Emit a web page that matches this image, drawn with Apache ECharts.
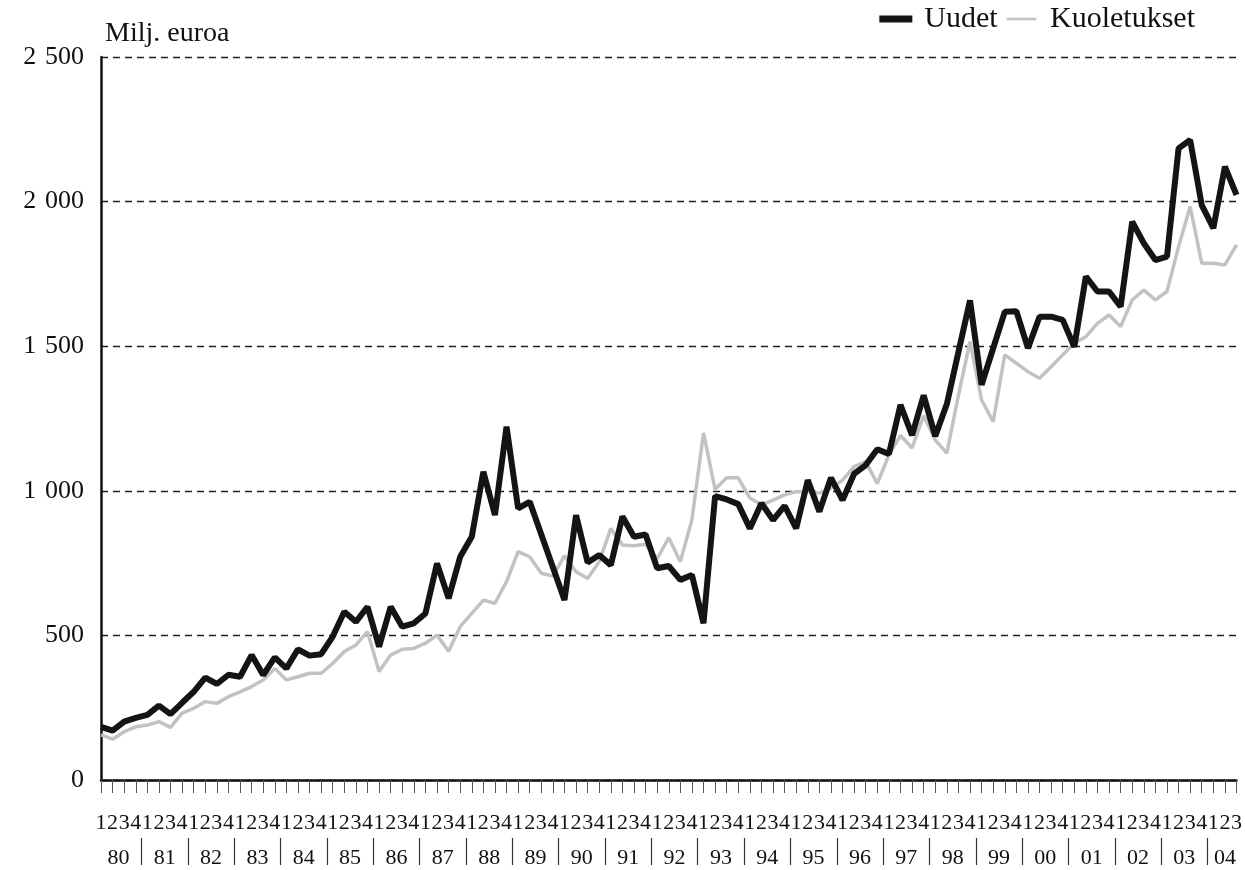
<!DOCTYPE html>
<html>
<head>
<meta charset="utf-8">
<script src="https://cdn.jsdelivr.net/npm/echarts/dist/echarts.min.js"></script>
<style>
    html, body {margin: 0; padding: 0; background: #fff;}
    #chart {width: 1245px; height: 870px;}
</style>
</head>
<body>
<div id="chart"></div>
<script>
//  vuodet (kaksinumeroiset), viimeisestä vuodesta vain 3 neljännestä
const yearLabels = ['80', '81', '82', '83', '84', '85', '86', '87', '88', '89', '90', '91',
    '92', '93', '94', '95', '96', '97', '98', '99', '00', '01', '02', '03', '04'];
const quarterLabels = ['1', '2', '3', '4'];
const lastYearQuarters = 3;

//  y-akselin asteikko
const yTicks = [0, 500, 1000, 1500, 2000, 2500];

//  Uudet, milj. euroa
const uudet = [
    184, 171, 202, 215, 225, 257, 228, 267, 305, 354,
    332, 364, 357, 432, 363, 424, 386, 452, 430, 435,
    496, 582, 547, 599, 461, 599, 530, 542, 576, 749,
    628, 772, 841, 1066, 916, 1222, 939, 962, 849, 736,
    622, 916, 752, 778, 743, 911, 841, 849, 732, 740,
    692, 709, 542, 982, 970, 954, 870, 957, 899, 948,
    870, 1037, 928, 1045, 968, 1059, 1089, 1144, 1127, 1297,
    1192, 1330, 1189, 1300, 1480, 1658, 1366, 1493, 1619, 1621,
    1493, 1602, 1602, 1591, 1498, 1741, 1689, 1689, 1637, 1931,
    1856, 1798, 1810, 2184, 2213, 1988, 1908, 2121, 2023
];

//  Kuoletukset, milj. euroa
const kuoletukset = [
    156, 141, 167, 184, 190, 202, 182, 231, 248, 271,
    265, 288, 305, 323, 346, 386, 346, 357, 369, 369,
    403, 444, 467, 513, 375, 432, 452, 455, 473, 501,
    445, 530, 576, 622, 611, 686, 790, 772, 715, 705,
    775, 720, 697, 755, 870, 813, 810, 815, 765, 838,
    755, 900, 1200, 1005, 1045, 1045, 975, 951, 968, 986,
    997, 997, 992, 1009, 1037, 1084, 1101, 1025, 1124, 1191,
    1148, 1260, 1175, 1130, 1330, 1516, 1314, 1239, 1470, 1441,
    1412, 1389, 1429, 1470, 1510, 1533, 1579, 1608, 1568, 1660,
    1694, 1660, 1689, 1844, 1983, 1787, 1787, 1781, 1850
];

const FONT = '"Liberation Serif", "Times New Roman", serif';

//  neljännekset kategorioiksi, esim. '80:1'
const categories = [];
yearLabels.forEach(function (yy, k) {
    const n = k === yearLabels.length - 1 ? lastYearQuarters : quarterLabels.length;
    for (let q = 0; q < n; q++) {
        categories.push(yy + ':' + quarterLabels[q]);
    }
});

//  vuosien keskikohdat ja vuosien väliset erottimet (kategoriaindekseinä)
const yearCenters = [];
const yearSeparators = [];
const yearByCenter = {};
(function () {
    let start = 0;
    yearLabels.forEach(function (yy, k) {
        const n = k === yearLabels.length - 1 ? lastYearQuarters : quarterLabels.length;
        const center = start + (n - 1) / 2;
        yearCenters.push(center);
        yearByCenter[String(center)] = yy;
        if (k < yearLabels.length - 1) {
            yearSeparators.push(start + n - 0.5);
        }
        start += n;
    });
}());

//  tuhaterotin: '2 500'
function thousands(v) {
    return String(v).replace(/\B(?=(\d{3})+(?!\d))/g, '\u2004');
}

const myChart = echarts.init(document.getElementById('chart'));
myChart.setOption({
    backgroundColor: '#ffffff',
    animation: false,
    textStyle: {fontFamily: FONT},
    legend: {
        top: -1,
        right: 45,
        itemWidth: 33,
        itemHeight: 7,
        itemGap: 9,
        textStyle: {fontFamily: FONT, fontSize: 30, color: '#111', padding: [0, 0, 0, 7]},
        data: [
            {name: 'Uudet', icon: 'rect'},
            //  ohuempi viiva, näkymättömät M-pisteet pitävät laatikon koon
            {name: 'Kuoletukset', icon: 'path://M0,0M0,2.5L34,2.5L34,5.5L0,5.5ZM34,8'}
        ]
    },
    grid: {left: 101, right: 5, top: 57, bottom: 90, containLabel: false},
    xAxis: [{
        type: 'category',
        data: categories,
        boundaryGap: false,
        axisLine: {lineStyle: {color: '#111', width: 2.5}},
        axisTick: {show: true, interval: 0, length: 13, lineStyle: {color: '#555', width: 1}},
        axisLabel: {
            interval: 0,
            margin: 32,
            fontFamily: FONT,
            fontSize: 22,
            color: '#111',
            formatter: function (v) {
                return v.split(':')[1];
            }
        },
        splitLine: {show: false}
    }, {
        //  vuosiluvut erottimineen
        type: 'value',
        min: 0,
        max: categories.length - 1,
        position: 'bottom',
        offset: 58,
        axisLine: {show: false},
        splitLine: {show: false},
        axisTick: {
            show: true,
            customValues: yearSeparators,
            length: 27,
            lineStyle: {color: '#333', width: 1.2}
        },
        axisLabel: {
            customValues: yearCenters,
            margin: 9,
            fontFamily: FONT,
            fontSize: 22,
            color: '#111',
            formatter: function (v) {
                return yearByCenter[String(v)] || '';
            }
        }
    }],
    yAxis: {
        type: 'value',
        min: yTicks[0],
        max: yTicks[yTicks.length - 1],
        interval: yTicks[1] - yTicks[0],
        name: 'Milj. euroa',
        nameLocation: 'end',
        nameGap: 9,
        nameTextStyle: {
            fontFamily: FONT,
            fontSize: 28,
            color: '#111',
            align: 'left',
            verticalAlign: 'bottom',
            padding: [0, 0, 0, 4]
        },
        axisLine: {show: true, lineStyle: {color: '#111', width: 2.5}},
        axisTick: {show: false},
        axisLabel: {
            margin: 17,
            fontFamily: FONT,
            fontSize: 26,
            color: '#111',
            formatter: thousands
        },
        splitLine: {show: true, lineStyle: {color: '#222', width: 1.3, type: [7, 5]}}
    },
    series: [{
        name: 'Uudet',
        type: 'line',
        data: uudet,
        showSymbol: false,
        symbol: 'none',
        z: 3,
        lineStyle: {color: '#141414', width: 6},
        itemStyle: {color: '#141414'}
    }, {
        name: 'Kuoletukset',
        type: 'line',
        data: kuoletukset,
        showSymbol: false,
        symbol: 'none',
        z: 2,
        lineStyle: {color: '#c2c2c2', width: 3.5},
        itemStyle: {color: '#c2c2c2'}
    }]
});
</script>
</body>
</html>
